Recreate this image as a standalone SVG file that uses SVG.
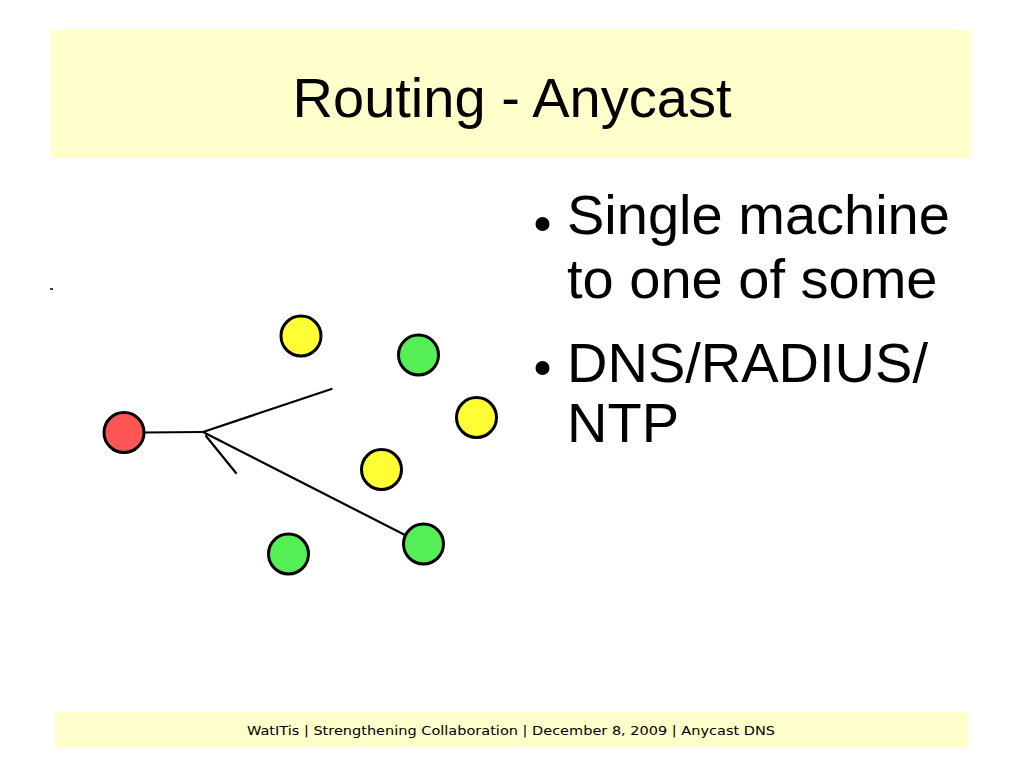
<svg xmlns="http://www.w3.org/2000/svg" width="1023" height="767" viewBox="0 0 1023 767">
<style>
.band{fill:#ffffcc}
.node{stroke:#000;stroke-width:3}
.y{fill:#ffff33}
.g{fill:#55ee55}
.r{fill:#ff5555}
.edge{stroke:#000;stroke-width:2.2;fill:none;stroke-linecap:round}
.title{font-family:"Liberation Sans",Arial,sans-serif;font-size:56px;fill:#000}
.body{font-family:"Liberation Sans",Arial,sans-serif;font-size:56px;fill:#000}
.foot{font-family:"DejaVu Sans",Verdana,sans-serif;font-size:13px;fill:#000}
</style>
<rect width="1023" height="767" fill="#ffffff"/>
<rect class="band" x="51" y="30" width="920" height="128"/>
<text class="title" x="512" y="117" text-anchor="middle">Routing - Anycast</text>
<rect class="band" x="55" y="712" width="913" height="36"/>
<text class="foot" x="511" y="735" text-anchor="middle" textLength="528" lengthAdjust="spacingAndGlyphs">WatITis | Strengthening Collaboration | December 8, 2009 | Anycast DNS</text>
<line x1="50" y1="289" x2="53" y2="289" stroke="#000" stroke-width="1.5"/>
<g id="connectors">
<line class="edge" x1="145" y1="432.5" x2="203" y2="432"/>
<line class="edge" x1="203" y1="432" x2="331.5" y2="389"/>
<line class="edge" x1="203" y1="432" x2="405" y2="535"/>
<line class="edge" x1="206" y1="436" x2="236" y2="473"/>
</g>
<g id="node-red"><circle class="node r" cx="124" cy="432.5" r="20"/></g>
<g id="node-y1"><circle class="node y" cx="301" cy="336" r="20"/></g>
<g id="node-g1"><circle class="node g" cx="418.5" cy="355" r="20"/></g>
<g id="node-y2"><circle class="node y" cx="476.5" cy="417.5" r="20"/></g>
<g id="node-y3"><circle class="node y" cx="381.5" cy="469.5" r="20"/></g>
<g id="node-g2"><circle class="node g" cx="423.5" cy="544" r="20"/></g>
<g id="node-g3"><circle class="node g" cx="288.5" cy="554" r="20"/></g>
<g id="bullets">
<circle cx="542.5" cy="224" r="7" fill="#000"/>
<circle cx="542.5" cy="368" r="7" fill="#000"/>
<text class="body" x="567" y="234">Single machine</text>
<text class="body" x="567" y="298">to one of some</text>
<text class="body" x="567" y="382">DNS/RADIUS/</text>
<text class="body" x="567" y="442">NTP</text>
</g>
</svg>
